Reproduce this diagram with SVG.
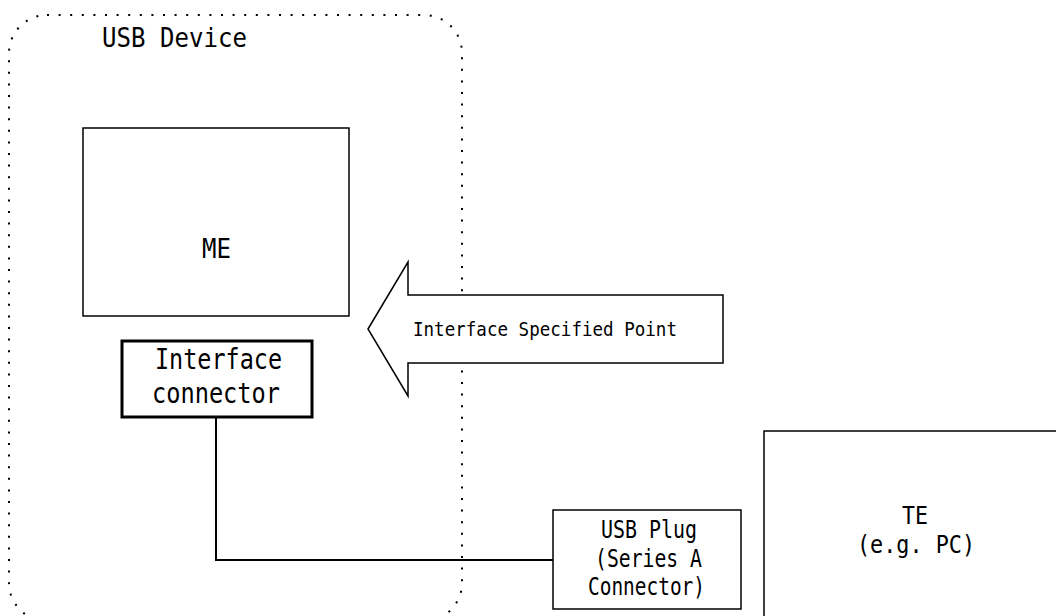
<svg xmlns="http://www.w3.org/2000/svg" width="1056" height="616" viewBox="0 0 1056 616">
<style>
  .box { fill: #fff; stroke: #000; stroke-width: 1.5; }
  .thick { fill: #fff; stroke: #000; stroke-width: 3; }
  .dotted { fill: none; stroke: #000; stroke-width: 2; stroke-dasharray: 2 9.6; }
  .t { font-family: "DejaVu Sans Mono", "Liberation Mono", monospace; fill: #000; }
  .conn { fill: none; stroke: #000; stroke-width: 2; }
</style>
<rect x="0" y="0" width="1056" height="616" fill="#fff"/>
<g id="usb-device">
  <rect class="dotted" x="9" y="15" width="453" height="606" rx="38" ry="38"/>
  <text class="t" x="102" y="47" font-size="27" textLength="145" lengthAdjust="spacingAndGlyphs">USB Device</text>
</g>
<g id="me">
  <rect class="box" x="83" y="128" width="266" height="188"/>
  <text class="t" x="202" y="258" font-size="27" textLength="29" lengthAdjust="spacingAndGlyphs">ME</text>
</g>
<g id="interface-point">
  <polygon class="box" points="368,329 408,262 408,295 723,295 723,363 408,363 408,396"/>
  <text class="t" x="413" y="336" font-size="19" textLength="264" lengthAdjust="spacingAndGlyphs">Interface Specified Point</text>
</g>
<g id="connectors">
  <polyline class="conn" points="216,417 216,560 553,560"/>
</g>
<g id="interface-connector">
  <rect class="thick" x="122" y="341" width="190" height="76"/>
  <text class="t" x="155" y="369" font-size="28" textLength="127" lengthAdjust="spacingAndGlyphs">Interface</text>
  <text class="t" x="152" y="403" font-size="28" textLength="128" lengthAdjust="spacingAndGlyphs">connector</text>
</g>
<g id="usb-plug">
  <rect class="box" x="553" y="510" width="188" height="99"/>
  <text class="t" x="601" y="538" font-size="24.5" textLength="96" lengthAdjust="spacingAndGlyphs">USB Plug</text>
  <text class="t" x="595" y="567" font-size="24.5" textLength="107" lengthAdjust="spacingAndGlyphs">(Series A</text>
  <text class="t" x="588" y="595" font-size="24.5" textLength="117" lengthAdjust="spacingAndGlyphs">Connector)</text>
</g>
<g id="te">
  <rect class="box" x="764" y="431" width="310" height="200"/>
  <text class="t" x="902" y="524" font-size="25" textLength="26" lengthAdjust="spacingAndGlyphs">TE</text>
  <text class="t" x="857" y="553" font-size="25" textLength="118" lengthAdjust="spacingAndGlyphs">(e.g. PC)</text>
</g>
</svg>
